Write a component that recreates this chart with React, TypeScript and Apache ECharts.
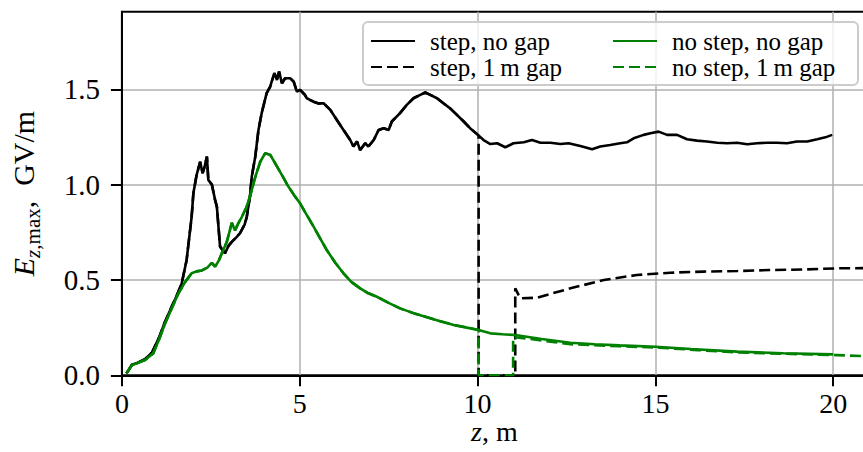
import React, { useEffect, useRef } from "react";
import * as echarts from "echarts";

const FONT = "'Liberation Serif', 'DejaVu Serif', serif";

const seriesNames = ["step, no gap", "step, 1\u2009m gap", "no step, no gap", "no step, 1\u2009m gap"];
const xTickValues = [0, 5, 10, 15, 20];
const yTickValues = [0, 0.5, 1.0, 1.5];

// step, no gap (black solid)
const stepNoGapZ = [
  0.13, 0.28, 0.45, 0.65, 0.85, 1.05, 1.21, 1.4, 1.5, 1.59, 1.68, 1.82, 1.96, 2.01, 2.1, 2.2, 2.27, 2.32, 2.39, 2.43,
  2.53, 2.62, 2.67, 2.76, 2.9, 3.0, 3.09, 3.2, 3.32, 3.45, 3.51, 3.6, 3.65, 3.75, 3.84, 3.93, 4.07, 4.17, 4.21, 4.29,
  4.36, 4.42, 4.5, 4.59, 4.73, 4.83, 4.92, 5.01, 5.15, 5.2, 5.29, 5.39, 5.53, 5.67, 5.86, 6.04, 6.23, 6.42, 6.51, 6.61,
  6.7, 6.84, 6.93, 7.08, 7.22, 7.36, 7.5, 7.59, 7.82, 8.01, 8.2, 8.39, 8.53, 8.67, 8.86, 9.04, 9.23, 9.42, 9.61, 9.79,
  10.01, 10.17, 10.36, 10.55, 10.78, 11.01, 11.3, 11.53, 11.77, 12.05, 12.33, 12.56, 12.89, 13.22, 13.45, 13.73, 14.01,
  14.2, 14.39, 14.67, 14.86, 15.09, 15.33, 15.61, 15.89, 16.17, 16.45, 16.74, 17.02, 17.3, 17.58, 17.86, 18.14, 18.42,
  18.7, 18.98, 19.27, 19.55, 19.78, 19.97,
];
const stepNoGapE = [
  0.01, 0.055, 0.066, 0.085, 0.12, 0.2, 0.28, 0.36, 0.4, 0.44, 0.48, 0.605, 0.83, 0.955, 1.05, 1.12, 1.06, 1.09, 1.147, 1.025,
  1.0, 0.92, 0.885, 0.675, 0.64, 0.68, 0.7, 0.72, 0.745, 0.79, 0.83, 0.937, 1.04, 1.147, 1.287, 1.375, 1.48, 1.514, 1.54, 1.584,
  1.549, 1.593, 1.532, 1.558, 1.558, 1.54, 1.488, 1.497, 1.47, 1.453, 1.444, 1.435, 1.426, 1.427, 1.392, 1.34, 1.287, 1.234, 1.2, 1.226,
  1.182, 1.217, 1.2, 1.234, 1.287, 1.296, 1.287, 1.331, 1.375, 1.418, 1.453, 1.471, 1.483, 1.471, 1.453, 1.427, 1.4, 1.366, 1.331, 1.296,
  1.261, 1.234, 1.213, 1.217, 1.196, 1.217, 1.222, 1.234, 1.22, 1.22, 1.213, 1.217, 1.203, 1.186, 1.2, 1.208, 1.217,
  1.222, 1.243, 1.261, 1.269, 1.278, 1.261, 1.261, 1.238, 1.231, 1.226, 1.22, 1.217, 1.22, 1.212, 1.217, 1.22, 1.22,
  1.217, 1.226, 1.226, 1.238, 1.248, 1.261,
];

// step, 1 m gap (black dashed): same as above up to the gap, then this tail
const stepGapStartZ = 10.01;
const stepGapTailZ = [10.03, 10.03, 11.06, 11.06, 11.2, 11.67, 12.61, 13.55, 14.48, 15.42, 16.36, 17.3, 18.24, 19.17, 20.11, 20.95];
const stepGapTailE = [1.255, 0, 0, 0.456, 0.404, 0.407, 0.456, 0.5, 0.526, 0.538, 0.544, 0.547, 0.552, 0.555, 0.561, 0.562];

// no step, no gap (green solid)
const noStepNoGapZ = [
  0.13, 0.28, 0.45, 0.65, 0.88, 1.05, 1.21, 1.4, 1.59, 1.78, 1.96, 2.1, 2.25, 2.4, 2.53, 2.62, 2.72, 2.81, 2.95, 3.09,
  3.18, 3.28, 3.37, 3.5, 3.6, 3.75, 3.89, 4.03, 4.17, 4.31, 4.5, 4.68, 4.87, 5.01, 5.2, 5.39, 5.57, 5.76, 6.0, 6.23,
  6.45, 6.7, 6.93, 7.17, 7.5, 7.82, 8.2, 8.58, 8.95, 9.33, 9.7, 10.03, 10.36, 10.7, 11.06, 11.8, 12.61, 13.3, 14.0, 15.0,
  16.0, 17.3, 18.6, 20.0,
];
const noStepNoGapE = [
  0.01, 0.054, 0.065, 0.08, 0.115, 0.19, 0.27, 0.35, 0.43, 0.49, 0.535, 0.545, 0.55, 0.565, 0.59, 0.57, 0.6, 0.64, 0.7, 0.8,
  0.76, 0.8, 0.83, 0.88, 0.937, 1.04, 1.12, 1.165, 1.156, 1.112, 1.05, 0.99, 0.937, 0.902, 0.84, 0.78, 0.72, 0.657, 0.59, 0.535,
  0.49, 0.456, 0.43, 0.412, 0.38, 0.351, 0.326, 0.304, 0.284, 0.264, 0.25, 0.238, 0.22, 0.215, 0.211, 0.19, 0.171, 0.163, 0.157, 0.15,
  0.138, 0.124, 0.116, 0.11,
];

// no step, 1 m gap (green dashed): same as green solid up to the gap, then this tail
const noStepGapStartZ = 10.03;
const noStepGapTailZ = [10.03, 11.0, 11.0, 11.5, 12.61, 14.0, 15.0, 16.2, 17.3, 18.6, 20.11, 20.95];
const noStepGapTailE = [0, 0, 0.2, 0.19, 0.163, 0.152, 0.146, 0.132, 0.12, 0.113, 0.106, 0.1];

const X_MAX = 20.95;
const Y_MAX = 1.907;

function pairs(z: number[], e: number[]) {
  return z.map((v, i) => [v, e[i]]);
}

export default function App() {
  const ref = useRef<HTMLDivElement>(null);
  useEffect(() => {
    if (!ref.current) return;
    const chart = echarts.init(ref.current, undefined, { renderer: "svg" });

    const stepSolid = pairs(stepNoGapZ, stepNoGapE);
    const stepDashed = stepSolid.filter((p) => p[0] <= stepGapStartZ).concat(pairs(stepGapTailZ, stepGapTailE));
    const greenSolid = pairs(noStepNoGapZ, noStepNoGapE);
    const greenDashed = greenSolid.filter((p) => p[0] <= noStepGapStartZ).concat(pairs(noStepGapTailZ, noStepGapTailE));

    const dash = [11, 5];
    const lw = 2.6;
    const mk = (name: string, data: number[][], color: string, dashed: boolean) => ({
      name,
      type: "line",
      data,
      symbol: "none",
      showSymbol: false,
      clip: true,
      lineStyle: { color, width: lw, type: dashed ? dash : "solid" },
      itemStyle: { color },
    });

    const legendCommon = {
      orient: "vertical",
      top: 28,
      padding: 0,
      itemGap: 0,
      itemWidth: 44,
      itemHeight: 26,
      itemStyle: { opacity: 0 },
      textStyle: { fontFamily: FONT, fontSize: 25, color: "#000", padding: [0, 0, 0, 10], lineHeight: 26 },
    };

    chart.setOption({
      animation: false,
      textStyle: { fontFamily: FONT },
      grid: {
        left: 121.9,
        top: 11.7,
        right: -4,
        bottom: 452 - 375.3,
        show: true,
        borderColor: "#000",
        borderWidth: 2,
        containLabel: false,
        outerBoundsMode: "none",
      },
      xAxis: {
        type: "value",
        min: 0,
        max: X_MAX,
        interval: 5,
        name: "{zi|z}{n|, m}",
        nameLocation: "middle",
        nameGap: 42,
        nameMoveOverlap: false,
        nameTextStyle: {
          lineHeight: 28,
          rich: {
            zi: { fontFamily: FONT, fontSize: 28, fontStyle: "italic", color: "#000", lineHeight: 28 },
            n: { fontFamily: FONT, fontSize: 28, color: "#000", lineHeight: 28 },
          },
        },
        axisLine: { show: true, onZero: false, lineStyle: { color: "#000", width: 2 } },
        axisTick: { show: true, inside: false, length: 11, lineStyle: { color: "#000", width: 2 }, customValues: xTickValues },
        axisLabel: {
          fontFamily: FONT,
          fontSize: 28,
          lineHeight: 20,
          color: "#000",
          margin: 18,
          customValues: xTickValues,
          formatter: (v: number) => String(v),
        },
        splitLine: { show: true, lineStyle: { color: "#b0b0b0", width: 1.5 } },
      },
      yAxis: {
        type: "value",
        min: 0,
        max: Y_MAX,
        interval: 0.5,
        name: "{ei|E}{si|z}{sr|,max}{n|,  GV/m}",
        nameLocation: "middle",
        nameRotate: 90,
        nameGap: 78,
        nameMoveOverlap: false,
        nameTextStyle: {
          rich: {
            ei: { fontFamily: FONT, fontSize: 30, fontStyle: "italic", color: "#000", lineHeight: 40, verticalAlign: "middle" },
            si: { fontFamily: FONT, fontSize: 21, fontStyle: "italic", color: "#000", lineHeight: 21, verticalAlign: "bottom" },
            sr: { fontFamily: FONT, fontSize: 21, color: "#000", lineHeight: 21, verticalAlign: "bottom" },
            n: { fontFamily: FONT, fontSize: 30, color: "#000", lineHeight: 40, verticalAlign: "middle" },
          },
        },
        axisLine: { show: true, onZero: false, lineStyle: { color: "#000", width: 2 } },
        axisTick: { show: true, inside: false, length: 11, lineStyle: { color: "#000", width: 2 }, customValues: yTickValues },
        axisLabel: {
          fontFamily: FONT,
          fontSize: 29,
          color: "#000",
          margin: 22,
          customValues: yTickValues,
          formatter: (v: number) => v.toFixed(1),
        },
        splitLine: { show: true, lineStyle: { color: "#b0b0b0", width: 1.5 } },
      },
      graphic: [
        {
          type: "rect",
          z: 3,
          shape: { x: 363, y: 22, width: 495, height: 63, r: 5 },
          style: { fill: "rgba(255,255,255,0.8)", stroke: "#cccccc", lineWidth: 2 },
        },
      ],
      legend: [
        { ...legendCommon, left: 370, data: [seriesNames[0], seriesNames[1]] },
        { ...legendCommon, left: 612, data: [seriesNames[2], seriesNames[3]] },
      ],
      series: [
        mk(seriesNames[0], stepSolid, "#000000", false),
        mk(seriesNames[1], stepDashed, "#000000", true),
        mk(seriesNames[2], greenSolid, "#008000", false),
        mk(seriesNames[3], greenDashed, "#008000", true),
      ],
    });
    return () => chart.dispose();
  }, []);
  return <div ref={ref} style={{ position: "fixed", left: 0, top: 0, width: 863, height: 452, background: "#fff" }} />;
}
